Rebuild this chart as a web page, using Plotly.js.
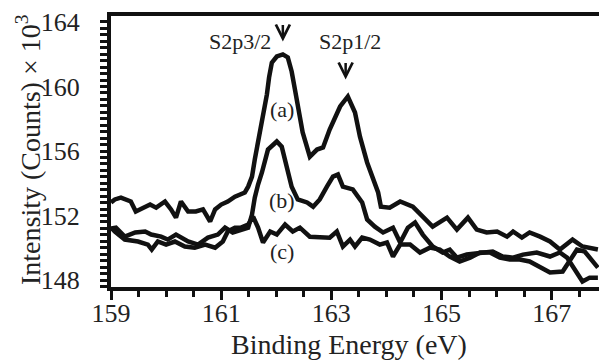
<!DOCTYPE html>
<html>
<head>
<meta charset="utf-8">
<script src="https://cdn.plot.ly/plotly-3.0.1.min.js"></script>
<style>html,body{margin:0;padding:0;background:#fff;}#chart{width:599px;height:362px;}</style>
</head>
<body>
<div id="chart"></div>
<script>
// Binding energy (eV) and intensity (counts x 10^3)
var xA = [159.00,159.07,159.18,159.36,159.45,159.54,159.71,159.82,159.98,160.09,160.18,160.27,160.40,160.54,160.67,160.80,160.89,161.00,161.12,161.25,161.36,161.43,161.49,161.56,161.61,161.67,161.72,161.78,161.83,161.87,161.92,162.01,162.12,162.21,162.28,162.34,162.39,162.48,162.61,162.74,162.85,162.97,163.16,163.30,163.43,163.52,163.65,163.76,163.85,163.90,164.06,164.25,164.48,164.66,164.84,165.10,165.28,165.48,165.64,165.82,166.01,166.19,166.30,166.46,166.60,166.79,166.97,167.15,167.38,167.56,167.84];
var yA = [152.81,153.00,153.11,152.87,152.25,152.38,152.68,152.49,152.87,152.38,151.87,152.87,152.25,152.25,152.38,151.63,152.38,152.68,152.87,153.17,153.30,153.43,153.79,154.41,155.47,156.53,157.64,158.57,159.50,160.56,161.48,161.86,161.99,161.80,160.93,159.81,158.76,157.15,155.65,156.09,156.22,157.33,158.76,159.38,158.39,156.89,155.29,154.24,153.43,152.55,152.49,152.87,152.55,151.93,151.31,151.87,151.13,151.87,151.13,150.95,151.01,150.69,151.01,150.63,150.95,150.69,150.39,149.89,150.51,150.08,149.89];

var xB = [159.00,159.09,159.25,159.44,159.62,159.73,159.91,160.03,160.18,160.40,160.58,160.76,160.94,161.07,161.21,161.36,161.49,161.56,161.61,161.67,161.74,161.85,161.94,162.01,162.10,162.19,162.28,162.39,162.56,162.67,162.79,162.92,163.03,163.12,163.21,163.39,163.56,163.65,163.79,163.94,164.12,164.25,164.39,164.52,164.66,164.84,165.02,165.15,165.28,165.46,165.70,165.93,166.11,166.30,166.48,166.73,166.97,167.15,167.28,167.38,167.48,167.56,167.69,167.84];
var yB = [151.19,151.25,150.69,150.95,151.01,150.82,150.69,150.51,150.82,150.39,150.20,150.63,150.82,151.25,150.95,151.13,151.25,152.06,153.11,153.92,154.67,156.09,156.40,156.59,156.27,155.03,153.79,153.00,152.81,152.55,153.00,153.79,154.41,154.54,153.79,153.62,152.81,151.76,151.31,150.95,151.25,150.33,151.25,151.57,150.82,150.08,149.71,149.89,149.39,149.58,149.71,149.77,149.46,149.39,149.58,149.71,149.46,149.71,149.39,148.84,148.22,147.91,148.15,148.15];

var xC = [159.00,159.07,159.25,159.49,159.67,159.74,159.85,160.00,160.16,160.34,160.52,160.71,160.89,161.03,161.12,161.25,161.36,161.49,161.58,161.67,161.76,161.89,162.01,162.16,162.30,162.43,162.61,162.79,162.97,163.10,163.21,163.34,163.43,163.56,163.70,163.88,164.01,164.12,164.25,164.43,164.61,164.79,164.97,165.15,165.33,165.52,165.70,165.88,166.06,166.24,166.42,166.60,166.79,166.97,167.20,167.33,167.46,167.60,167.84];
var yC = [151.25,151.01,150.51,150.39,150.20,149.89,150.39,150.20,150.39,150.08,150.01,150.20,150.01,150.39,151.01,151.25,151.25,151.44,151.93,151.25,150.33,151.01,150.82,151.44,151.01,151.25,150.69,150.63,150.63,151.01,150.08,150.51,150.08,150.63,150.51,150.20,150.33,149.46,150.20,150.20,149.71,150.01,149.89,149.46,149.15,149.39,149.71,149.71,149.39,149.27,149.27,149.15,148.84,148.47,148.53,149.15,149.89,149.77,148.77];

var curveLabels = ['(a)', '(b)', '(c)'];
var labelX = [162.11, 162.11, 162.11];
var labelY = [158.57, 152.94, 149.77];

var peakNames = ['S2p3/2', 'S2p1/2'];
var peakTextX = [161.35, 163.34];
var peakTextY = [162.79, 162.79];
var peakArrowX = [162.12, 163.26];
var peakArrowY = [162.79, 160.43];

var xTickVals = [159, 161, 163, 165, 167];
var yTickVals = [148, 152, 156, 160, 164];

var lineStyle = {color: '#111', width: 4.5, shape: 'linear'};
var traces = [
  {x: xA, y: yA, type: 'scatter', mode: 'lines', line: lineStyle, hoverinfo: 'skip'},
  {x: xB, y: yB, type: 'scatter', mode: 'lines', line: lineStyle, hoverinfo: 'skip'},
  {x: xC, y: yC, type: 'scatter', mode: 'lines', line: lineStyle, hoverinfo: 'skip'}
];

var serif = '"Liberation Serif"';
var annotations = [];
for (var i = 0; i < curveLabels.length; i++) {
  annotations.push({x: labelX[i], y: labelY[i], xref: 'x', yref: 'y', text: curveLabels[i],
    showarrow: false, xanchor: 'center', yanchor: 'middle', font: {family: serif, size: 22, color: '#222'}});
}
for (var j = 0; j < peakNames.length; j++) {
  annotations.push({x: peakTextX[j], y: peakTextY[j], xref: 'x', yref: 'y', text: peakNames[j],
    showarrow: false, xanchor: 'center', yanchor: 'middle', font: {family: serif, size: 22, color: '#222'}});
  annotations.push({x: peakArrowX[j], y: peakArrowY[j], xref: 'x', yref: 'y', text: '',
    showarrow: true, ax: 0, ay: -18, arrowhead: 5, arrowsize: 1.1, arrowwidth: 2.5, arrowcolor: '#111', standoff: 0});
}
annotations.push({x: 0.4867, y: -0.214, xref: 'paper', yref: 'paper', text: 'Binding Energy (eV)',
  showarrow: false, xanchor: 'center', yanchor: 'middle', font: {family: serif, size: 28, color: '#222'}});
annotations.push({x: -0.17, y: 0.5055, xref: 'paper', yref: 'paper', text: 'Intensity (Counts) × 10<sup>3</sup>',
  showarrow: false, textangle: -90, xanchor: 'center', yanchor: 'middle', font: {family: serif, size: 28, color: '#222'}});

var layout = {
  width: 599, height: 362,
  margin: {l: 111, r: 0, t: 16, b: 75, pad: 0},
  paper_bgcolor: '#fff', plot_bgcolor: '#fff',
  showlegend: false,
  font: {family: serif},
  xaxis: {
    range: [159, 167.86], showgrid: false, zeroline: false,
    showline: true, linewidth: 4, linecolor: '#111', mirror: true,
    ticks: 'outside', ticklen: 9, tickwidth: 3, tickcolor: '#111',
    tickvals: xTickVals, ticktext: xTickVals.map(String),
    tickfont: {family: serif, size: 26, color: '#222'},
    ticklabelstandoff: -9,
    minor: {dtick: 0.5, tick0: 159, ticks: 'outside', ticklen: 6, tickwidth: 3, tickcolor: '#111', showgrid: false}
  },
  yaxis: {
    range: [147.57, 164.37], showgrid: false, zeroline: false,
    showline: true, linewidth: 4, linecolor: '#111', mirror: false,
    ticks: 'outside', ticklen: 7, tickwidth: 3, tickcolor: '#111',
    tickvals: yTickVals, ticktext: yTickVals.map(String),
    tickfont: {family: serif, size: 26, color: '#222'},
    ticklabelstandoff: 15,
    minor: {dtick: 0.4, tick0: 148, ticks: 'outside', ticklen: 7, tickwidth: 3, tickcolor: '#111', showgrid: false}
  },
  annotations: annotations
};

Plotly.newPlot('chart', traces, layout, {staticPlot: true, displayModeBar: false});
</script>
</body>
</html>
